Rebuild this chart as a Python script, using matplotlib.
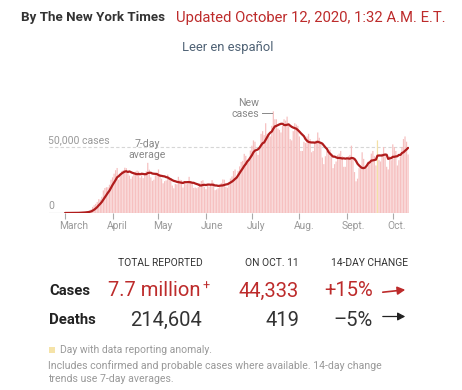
import matplotlib
matplotlib.use("Agg")
import matplotlib.pyplot as plt
import numpy as np
import pandas as pd

W, H = 462, 390
plt.rcParams['font.family'] = ['Roboto', 'DejaVu Sans']

# daily new cases, March 1 - Oct 11 2020
march = [7, 23, 20, 31, 70, 60, 115, 120, 180, 290, 400, 470, 660, 700, 900, 1200,
         1800, 2700, 4600, 5900, 6900, 8400, 10500, 10100, 12300, 17100, 18900,
         19500, 19500, 21400, 25200]
april = [27000, 29800, 32400, 34100, 25300, 29600, 31700, 32400, 34300, 34000,
         30200, 28300, 25900, 27700, 30200, 31300, 32100, 31500, 26800, 28600,
         26400, 29100, 31600, 38000, 32800, 27000, 24400, 25200, 28600, 30500]
may = [33000, 29300, 26000, 22500, 24100, 24700, 29100, 27200, 25800, 20800,
       18700, 22000, 21700, 27400, 25200, 24900, 19300, 23000, 21700, 22300,
       27400, 24300, 22400, 19000, 19300, 18800, 19700, 22700, 24300, 24800, 19900]
june = [18100, 21000, 20000, 21800, 24900, 22900, 17300, 17900, 18800, 21200,
        22800, 25400, 25200, 19900, 19200, 23000, 26100, 27700, 31800, 33000,
        26300, 31900, 35300, 38700, 39500, 44800, 43300, 39800, 40600, 47300]
july = [51000, 55000, 54000, 46000, 44000, 49000, 60000, 62000, 59000, 68000,
        60000, 59000, 58000, 66000, 77000, 71000, 71000, 64000, 63000, 61000,
        66000, 71000, 70000, 73000, 66000, 56000, 55000, 62000, 68000, 67000, 66000]
august = [58000, 47000, 47000, 54000, 53000, 58000, 60000, 56000, 46000, 47000,
          53000, 55000, 61000, 57000, 53000, 42000, 37000, 43000, 47000, 45000,
          48000, 45000, 34000, 37000, 39000, 44000, 45000, 47000, 43000, 35000, 35000]
september = [41000, 43000, 44000, 51000, 42000, 31000, 24000, 26000, 34000, 36000,
             46000, 41000, 34000, 34000, 39000, 39000, 45000, 47000, 43000, 36000,
             55000, 40000, 39000, 45000, 50000, 45000, 35000, 33000, 43000, 40000]
october = [52000, 50000, 47000, 36000, 40000, 43000, 50000, 56000, 58000, 54000, 44333]

anomaly_days = ['2020-09-21']
month_ticks = ['2020-03-01', '2020-04-01', '2020-05-01', '2020-06-01', '2020-07-01',
               '2020-08-01', '2020-09-01', '2020-10-01']
month_labels = ['March', 'April', 'May', 'June', 'July', 'Aug.', 'Sept.', 'Oct.']

cases = march + april + may + june + july + august + september + october
days = pd.date_range('2020-03-01', periods=len(cases), freq='D')
s = pd.Series(cases, index=days)
avg = s.rolling(7, min_periods=1).mean()

# table values
col_heads = ['TOTAL REPORTED', 'ON OCT. 11', '14-DAY CHANGE']
row_names = ['Cases', 'Deaths']
totals = ['7.7 million', '214,604']
latest = ['44,333', '419']
changes = ['+15%', '\u20135%']

RED = '#bd2b2b'
DARK = '#222222'
GRAY = '#999999'


def px(x, y):
    return x / W, 1 - y / H


fig = plt.figure(figsize=(W / 100, H / 100), dpi=100)
fig.patch.set_facecolor('white')

ax = fig.add_axes([49 / W, 1 - 213 / H, 360 / W, 105.6 / H])
ax.set_facecolor('none')

colors = ['#f3e0a6' if str(d.date()) in anomaly_days else '#f6c0c0' for d in days]
bars = ax.bar(days, s.values, width=0.8, color=colors, linewidth=0, zorder=2)
for b in bars:
    b.set_snap(False)
ax.plot(days, avg.values, color='#b01c1c', lw=1.6, zorder=3, solid_capstyle='round')

ax.axhline(50000, color='#d6d6d6', lw=0.8, ls=(0, (3, 2)), zorder=1)
ax.axhline(0, color='#d0d0d0', lw=0.9, zorder=1)

ax.set_ylim(0, 80000)
ax.set_xlim(pd.Timestamp('2020-03-01') - pd.Timedelta(days=10.5),
            pd.Timestamp('2020-10-11') + pd.Timedelta(days=0.6))
for sp in ax.spines.values():
    sp.set_visible(False)
ax.set_yticks([])
ticks = pd.to_datetime(month_ticks)
ax.set_xticks(ticks)
ax.set_xticklabels([])
ax.tick_params(axis='x', length=4, width=0.8, color='#aaaaaa', direction='out', pad=0)
for t, lab in zip(ticks, month_labels):
    ax.text(t - pd.Timedelta(days=3.6), -9500, lab, ha='left', va='center',
            fontsize=7.4, color=GRAY, clip_on=False)

# y labels
fig.text(*px(48, 140), '50,000 cases', fontsize=7.6, color=GRAY, ha='left', va='center')
fig.text(*px(48, 206), '0', fontsize=7.6, color=GRAY, ha='left', va='center')

# annotations
fig.text(*px(147, 144), '7-day', fontsize=7.6, color='#888888', ha='center', va='center')
fig.text(*px(147, 155.5), 'average', fontsize=7.6, color='#888888', ha='center', va='center')
fig.text(*px(249, 103), 'New', fontsize=7.6, color='#888888', ha='center', va='center')
fig.text(*px(259, 113.5), 'cases', fontsize=7.6, color='#888888', ha='right', va='center')
fig.lines.append(plt.Line2D([262 / W, 272 / W], [1 - 113 / H, 1 - 113 / H],
                            transform=fig.transFigure, color='#888888', lw=0.7))

# header
fig.text(*px(21, 18), 'By The New York Times', fontsize=9.6, fontweight='bold',
         color='#333333', ha='left', va='center')
fig.text(*px(176, 18), 'Updated October 12, 2020, 1:32 A.M. E.T.', fontsize=10.7,
         color=RED, ha='left', va='center')
fig.text(*px(228, 47.5), 'Leer en espa\u00f1ol', fontsize=9.4, color='#4f6275',
         ha='center', va='center')

# table
fig.text(*px(160.5, 263), col_heads[0], fontsize=7.4, color='#333333', ha='center', va='center')
fig.text(*px(299, 263), col_heads[1], fontsize=7.4, color='#333333', ha='right', va='center')
fig.text(*px(408, 263), col_heads[2], fontsize=7.4, color='#333333', ha='right', va='center')

rows_y = [291, 320]
row_cols = [RED, '#333333']
for i in range(2):
    y = rows_y[i]
    fig.text(*px(49, y), row_names[i], fontsize=10.7, fontweight='bold', color=DARK,
             ha='left', va='center')
    if i == 0:
        fig.text(*px(201, y), totals[i], fontsize=14.5, color=row_cols[i],
                 ha='right', va='center')
        fig.text(*px(202, y - 5), '+', fontsize=9, color=row_cols[i], ha='left', va='center')
    else:
        fig.text(*px(166, y), totals[i], fontsize=14.5, color=row_cols[i],
                 ha='center', va='center')
    fig.text(*px(299, y), latest[i], fontsize=14.5, color=row_cols[i], ha='right', va='center')
    fig.text(*px(373, y), changes[i], fontsize=14.5, color=row_cols[i], ha='right', va='center')

fig.add_artist(matplotlib.patches.FancyArrowPatch(
    px(380, 292.5), px(408, 289.5), transform=fig.transFigure, arrowstyle='-|>,head_length=3,head_width=1.6',
    color=RED, lw=1.2, mutation_scale=1.5))
fig.add_artist(matplotlib.patches.FancyArrowPatch(
    px(380, 316.5), px(408, 316.5), transform=fig.transFigure, arrowstyle='-|>,head_length=3,head_width=1.6',
    color='#222222', lw=0.9, mutation_scale=1.5))

# footnote
fig.add_artist(matplotlib.patches.Rectangle(px(49, 353), 6 / W, 6 / H, transform=fig.transFigure,
                                            color='#f5e3a8', lw=0))
fig.text(*px(60, 350), 'Day with data reporting anomaly.', fontsize=7.5, color=GRAY,
         ha='left', va='center')
fig.text(*px(48, 365.5), 'Includes confirmed and probable cases where available. 14-day change',
         fontsize=7.6, color=GRAY, ha='left', va='center')
fig.text(*px(48, 378.5), 'trends use 7-day averages.', fontsize=7.6, color=GRAY,
         ha='left', va='center')

fig.savefig('out.png', dpi=100, facecolor='white')
